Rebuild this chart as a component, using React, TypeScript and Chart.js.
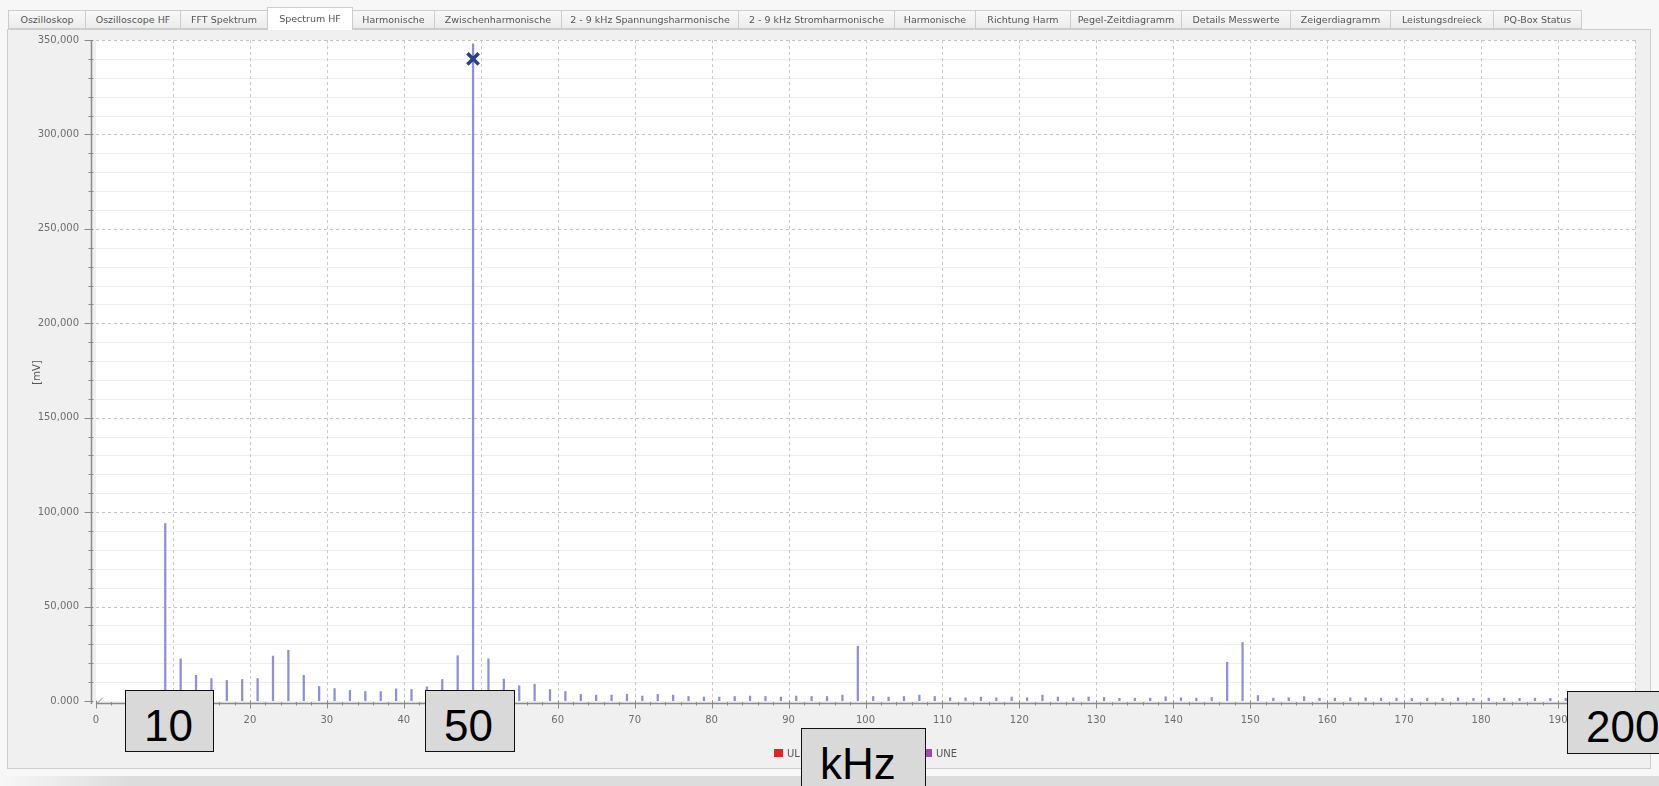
import React, { useEffect, useRef } from 'react';
import { Chart, registerables } from 'chart.js';

Chart.register(...registerables);

// ---------- data ----------
const FREQ_KHZ = [
  9, 11, 13, 15, 17, 19, 21, 23, 25, 27, 29, 31, 33, 35, 37, 39, 41, 43, 45, 47,
  49, 51, 53, 55, 57, 59, 61, 63, 65, 67, 69, 71, 73, 75, 77, 79, 81, 83, 85, 87,
  89, 91, 93, 95, 97, 99, 101, 103, 105, 107, 109, 111, 113, 115, 117, 119, 121, 123, 125, 127,
  129, 131, 133, 135, 137, 139, 141, 143, 145, 147, 149, 151, 153, 155, 157, 159, 161, 163, 165, 167,
  169, 171, 173, 175, 177, 179, 181, 183, 185, 187, 189, 191, 193, 195, 197, 199,
];
const AMPLITUDE_MV = [
  94000, 22300, 13600, 11900, 10900, 11400, 11900, 23800, 26900, 13600, 7700, 6600, 5600, 5000, 5000, 6400, 6100, 7500, 11400, 24000,
  348000, 22300, 11600, 8100, 8900, 6100, 5000, 3500, 3100, 3100, 3500, 2600, 3500, 3100, 2400, 2100, 2100, 2400, 2600, 2400,
  2100, 2600, 2400, 2400, 3100, 29000, 2400, 2100, 2400, 3100, 2400, 1700, 1700, 2100, 1700, 2100, 1700, 3100, 2100, 1700,
  2100, 1900, 1400, 1500, 1500, 2300, 1700, 1500, 1900, 20500, 31000, 2900, 1500, 1700, 2300, 1500, 1500, 1700, 1700, 1500,
  1500, 1400, 1500, 1500, 1700, 1400, 1500, 1500, 1400, 1500, 1400, 1500, 1300, 1300, 1300, 1300,
];
const PEAK_FREQ_KHZ = [49];
const PEAK_MARK_MV = [340000];

const X_MIN = 0;
const X_MAX = 200;
const X_STEP = 10;
const Y_MIN = 0;
const Y_MAX = 350000;
const Y_STEP = 10000;
const Y_LABEL_STEP = 50000;

const Y_TITLE = '[mV]';
const LEGEND_LABELS = ['ULE', 'UNE'];
const LEGEND_COLORS = ['#e02424', '#a546b0'];

const TAB_LABELS = [
  'Oszilloskop', 'Oszilloscope HF', 'FFT Spektrum', 'Spectrum HF', 'Harmonische',
  'Zwischenharmonische', '2 - 9 kHz Spannungsharmonische', '2 - 9 kHz Stromharmonische',
  'Harmonische', 'Richtung Harm', 'Pegel-Zeitdiagramm', 'Details Messwerte',
  'Zeigerdiagramm', 'Leistungsdreieck', 'PQ-Box Status',
];
const SELECTED_TAB = 3;
const CALLOUT_TEXTS = ['10', '50', 'kHz', '200'];

// ---------- layout (not data) ----------
const TAB_EDGES = [8, 85, 180, 267, 352, 434, 561, 738, 894, 975, 1070, 1181, 1290, 1390, 1493, 1581];
const CALLOUT_BOXES = [
  { left: 125, top: 690, width: 89, height: 62 },
  { left: 425, top: 690, width: 90, height: 62 },
  { left: 801, top: 728, width: 125, height: 62 },
  { left: 1567, top: 691, width: 110, height: 63 },
];

const fmtY = (v: number) => (v === 0 ? '0.000' : v.toLocaleString('en-US'));

const gridPlugin = {
  id: 'pqGrid',
  beforeDatasetsDraw(chart: any) {
    const { ctx, chartArea: a, scales } = chart;
    const x = scales.x;
    const y = scales.y;
    ctx.save();
    ctx.fillStyle = '#ffffff';
    ctx.fillRect(a.left, a.top, a.right - a.left, a.bottom - a.top);
    ctx.lineWidth = 1;
    ctx.strokeStyle = '#ededed';
    ctx.setLineDash([]);
    y.ticks.forEach((t: any) => {
      if (t.value === 0 || t.value % Y_LABEL_STEP === 0) return;
      const py = Math.round(y.getPixelForValue(t.value)) + 0.5;
      ctx.beginPath();
      ctx.moveTo(a.left, py);
      ctx.lineTo(a.right, py);
      ctx.stroke();
    });
    ctx.strokeStyle = '#c2c2c2';
    ctx.setLineDash([3, 3]);
    y.ticks.forEach((t: any) => {
      if (t.value === 0 || t.value % Y_LABEL_STEP !== 0) return;
      const py = Math.round(y.getPixelForValue(t.value)) + 0.5;
      ctx.beginPath();
      ctx.moveTo(a.left, py);
      ctx.lineTo(a.right, py);
      ctx.stroke();
    });
    ctx.strokeStyle = '#c9c9c9';
    x.ticks.forEach((t: any) => {
      if (t.value === X_MIN) return;
      const px = Math.round(x.getPixelForValue(t.value)) + 0.5;
      ctx.beginPath();
      ctx.moveTo(px, a.top);
      ctx.lineTo(px, a.bottom);
      ctx.stroke();
    });
    ctx.restore();
  },
  afterDatasetsDraw(chart: any) {
    const { ctx, chartArea: a, scales } = chart;
    const x = scales.x;
    const y = scales.y;
    ctx.save();
    ctx.strokeStyle = '#8a8a8a';
    ctx.setLineDash([]);
    const ax = a.left - 4.5;
    ctx.lineWidth = 1.5;
    ctx.beginPath();
    ctx.moveTo(ax, a.top);
    ctx.lineTo(ax, a.bottom + 3);
    ctx.stroke();
    ctx.lineWidth = 1;
    y.ticks.forEach((t: any) => {
      const py = Math.round(y.getPixelForValue(t.value)) + 0.5;
      const major = t.value % Y_LABEL_STEP === 0;
      ctx.beginPath();
      ctx.moveTo(major ? ax - 7 : ax - 3, py);
      ctx.lineTo(ax + 2, py);
      ctx.stroke();
    });
    const ay = a.bottom + 2.5;
    ctx.lineWidth = 1.5;
    ctx.beginPath();
    ctx.moveTo(a.left, ay);
    ctx.lineTo(a.right, ay);
    ctx.stroke();
    ctx.lineWidth = 1;
    for (let v = X_MIN; v <= X_MAX; v += 2) {
      const px = Math.round(x.getPixelForValue(v)) + 0.5;
      const major = v % X_STEP === 0;
      ctx.beginPath();
      ctx.moveTo(px, ay - (major ? 3 : 1.5));
      ctx.lineTo(px, ay + (major ? 5 : 2));
      ctx.stroke();
    }
    ctx.beginPath();
    ctx.moveTo(a.left + 1, ay);
    ctx.lineTo(a.left + 7, ay - 6);
    ctx.stroke();
    ctx.fillStyle = '#555';
    ctx.font = '10px "DejaVu Sans", sans-serif';
    ctx.textAlign = 'center';
    ctx.textBaseline = 'middle';
    ctx.translate(37, (a.top + a.bottom) / 2 + 2);
    ctx.rotate(-Math.PI / 2);
    ctx.fillText(Y_TITLE, 0, 0);
    ctx.restore();
  },
};

export default function App() {
  const ref = useRef<HTMLCanvasElement>(null);

  useEffect(() => {
    const chart = new Chart(ref.current as HTMLCanvasElement, {
      type: 'bar',
      data: {
        datasets: [
          {
            type: 'scatter',
            label: 'Peak',
            data: PEAK_FREQ_KHZ.map((f, i) => ({ x: f, y: PEAK_MARK_MV[i] })),
            pointStyle: 'crossRot',
            pointRadius: 8,
            borderWidth: 3.5,
            borderColor: '#2b3f8e',
            backgroundColor: '#2b3f8e',
            order: 0,
          } as any,
          {
            type: 'bar',
            label: 'Spectrum',
            data: FREQ_KHZ.map((f, i) => ({ x: f, y: AMPLITUDE_MV[i] })),
            backgroundColor: '#8e8edc',
            borderWidth: 0,
            barThickness: 1.6,
            order: 1,
          } as any,
        ],
      },
      options: {
        animation: false,
        responsive: false,
        maintainAspectRatio: false,
        layout: { padding: { left: 0, right: 24, top: 40, bottom: 0 } },
        plugins: { legend: { display: false }, tooltip: { enabled: false } },
        scales: {
          x: {
            type: 'linear',
            min: X_MIN,
            max: X_MAX,
            offset: false,
            grid: { display: false, drawTicks: false },
            border: { display: false },
            ticks: {
              stepSize: X_STEP,
              autoSkip: false,
              maxRotation: 0,
              padding: 13,
              color: '#6e6e6e',
              font: { family: '"DejaVu Sans", sans-serif', size: 10 },
            },
            afterFit: (s: any) => { s.height = 85; },
          },
          y: {
            type: 'linear',
            min: Y_MIN,
            max: Y_MAX,
            grid: { display: false, drawTicks: false },
            border: { display: false },
            ticks: {
              stepSize: Y_STEP,
              autoSkip: false,
              padding: 17,
              color: '#6e6e6e',
              font: { family: '"DejaVu Sans", sans-serif', size: 10 },
              callback: (v: any) => (Number(v) % Y_LABEL_STEP === 0 ? fmtY(Number(v)) : ''),
            },
            afterFit: (s: any) => { s.width = 96; },
          },
        },
      } as any,
      plugins: [gridPlugin],
    });
    return () => chart.destroy();
  }, []);

  const tabFont = '"DejaVu Sans", sans-serif';

  return (
    <div
      style={{
        position: 'fixed', left: 0, top: 0, width: 1659, height: 786, overflow: 'hidden',
        background: '#f7f7f7', fontFamily: tabFont,
      }}
    >
      <div style={{
        position: 'absolute', left: 7, top: 29, width: 1644, height: 740,
        background: '#f0f0f0', border: '1px solid #cdcdcd', boxSizing: 'border-box',
      }} />
      <div style={{
        position: 'absolute', left: 0, top: 776, width: 1659, height: 10,
        background: 'linear-gradient(to right, #f7f7f7 0px, #dcdcdc 130px, #dcdcdc 100%)',
      }} />
      {TAB_LABELS.map((label, i) => {
        const sel = i === SELECTED_TAB;
        return (
          <div key={i} style={{
            position: 'absolute', left: TAB_EDGES[i], top: sel ? 7 : 10,
            width: TAB_EDGES[i + 1] - TAB_EDGES[i] + 1, height: sel ? 23 : 19,
            boxSizing: 'border-box', border: '1px solid #cccccc', borderBottom: sel ? 'none' : '1px solid #cccccc',
            background: sel ? '#ffffff' : 'linear-gradient(#f9f9f9, #ececec)',
            fontSize: 9.5, lineHeight: sel ? '21px' : '17px', textAlign: 'center',
            color: '#555555', whiteSpace: 'nowrap', overflow: 'hidden', zIndex: sel ? 2 : 1,
          }}>{label}</div>
        );
      })}
      <canvas
        ref={ref}
        width={1659}
        height={786}
        style={{ position: 'absolute', left: 0, top: 0, width: 1659, height: 786 }}
      />
      {LEGEND_LABELS.map((label, i) => (
        <div key={label} style={{
          position: 'absolute', left: i === 0 ? 774 : 923, top: 746, height: 14,
          display: 'flex', alignItems: 'center', fontSize: 10, color: '#555', whiteSpace: 'nowrap',
        }}>
          <span style={{ display: 'inline-block', width: 9, height: 8, background: LEGEND_COLORS[i], marginRight: 4 }} />
          {label}
        </div>
      ))}
      {CALLOUT_TEXTS.map((t, i) => {
        const b = CALLOUT_BOXES[i];
        return (
          <div key={t} style={{
            position: 'absolute', left: b.left, top: b.top, width: b.width, height: b.height,
            boxSizing: 'border-box', border: '1px solid #111', background: '#d9d9d9',
            fontFamily: '"Liberation Sans", Arial, sans-serif', fontSize: 44, lineHeight: '44px',
            paddingTop: 13, paddingLeft: 18, color: '#000', whiteSpace: 'nowrap', zIndex: 5,
          }}>{t}</div>
        );
      })}
    </div>
  );
}
